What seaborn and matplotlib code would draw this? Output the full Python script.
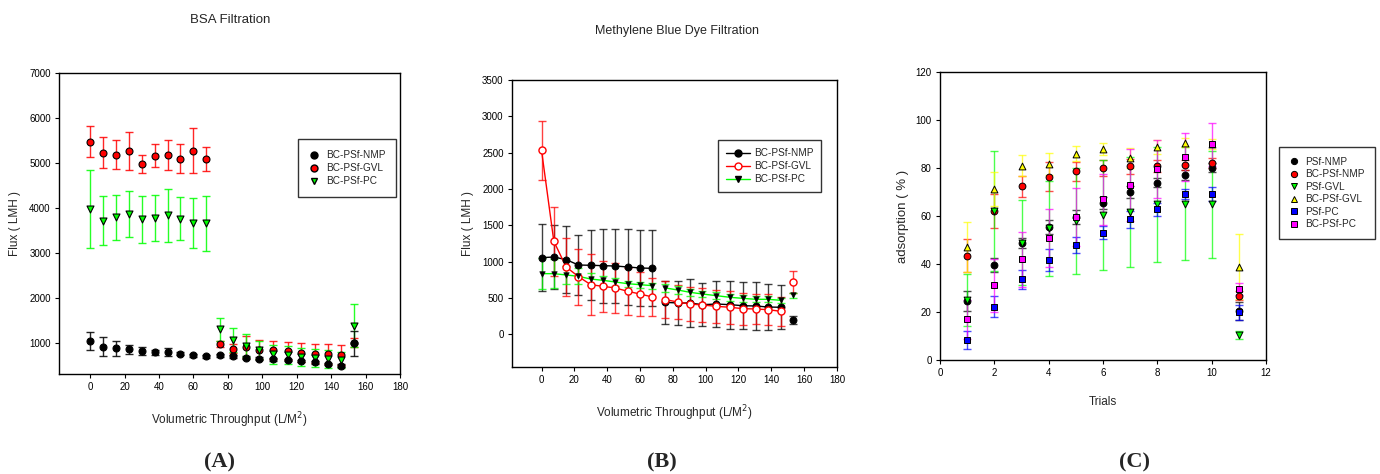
import numpy as np
import pandas as pd
import matplotlib
matplotlib.use("Agg")
import matplotlib.pyplot as plt
import seaborn as sns
from matplotlib.lines import Line2D

sns.set_style("ticks")
plt.rcParams['font.family'] = ['Liberation Sans', 'DejaVu Sans']

# ---------------- data ----------------
throughput = [0, 7.5, 15, 22.5, 30, 37.5, 45, 52.5, 60, 67.5, 75.5, 83, 90.5,
              98, 106.5, 115, 122.7, 130.4, 138, 145.7, 153.3]
segment = [0] * 10 + [1] * 10 + [2]

# BSA filtration flux (LMH)
bsa_nmp = [1044, 920, 880, 860, 822, 790, 790, 763, 726, 704, 726, 704, 674,
           652, 637, 622, 600, 570, 534, 497, 993]
bsa_nmp_err = [200, 210, 160, 100, 80, 50, 90, 40, 30, 30, 30, 30, 30,
               30, 30, 30, 30, 30, 30, 30, 280]
bsa_gvl = [5476, 5231, 5186, 5268, 4987, 5164, 5179, 5098, 5268, 5083, 978,
           874, 911, 852, 837, 815, 785, 763, 748, 741, 1000]
bsa_gvl_err = [350, 350, 320, 420, 200, 250, 330, 320, 500, 270, 60, 100,
               240, 215, 200, 200, 215, 215, 222, 222, 100]
bsa_pc = [3975, 3716, 3790, 3864, 3746, 3783, 3834, 3760, 3671, 3657, 1303,
          1067, 933, 845, 748, 726, 682, 674, 637, 615, 1385]
bsa_pc_err = [860, 540, 495, 510, 520, 510, 585, 475, 555, 610, 250, 270,
              255, 200, 215, 200, 205, 200, 200, 180, 485]

# Methylene blue dye filtration flux (LMH)
mb_nmp = [1055, 1064, 1028, 954, 950, 945, 940, 927, 913, 908, 440, 431, 431,
          408, 417, 408, 394, 390, 376, 372, 202]
mb_nmp_err = [460, 440, 460, 410, 480, 510, 515, 520, 520, 525, 300, 305,
              330, 300, 320, 330, 320, 325, 315, 300, 55]
mb_gvl = [2532, 1280, 927, 794, 683, 660, 638, 592, 555, 514, 477, 445, 417,
          404, 385, 372, 353, 349, 339, 317, 720]
mb_gvl_err = [410, 475, 400, 385, 420, 350, 340, 325, 305, 265, 250, 240,
              230, 230, 225, 230, 220, 210, 210, 200, 150]
mb_pc = [835, 835, 817, 798, 761, 743, 720, 697, 683, 670, 638, 610, 578, 555,
         532, 509, 495, 482, 482, 468, 537]
mb_pc_err = [210, 200, 130, 110, 80, 60, 50, 40, 40, 40, 50, 50, 50, 45, 45,
             45, 45, 40, 40, 35, 35]

# Adsorption (%) per trial
trials = [1, 2, 3, 4, 5, 6, 7, 8, 9, 10, 11]
psf_nmp = [24.7, 39.5, 48.8, 55.3, 59.6, 65.6, 70.0, 73.9, 77.1, 80.2, 20.5]
psf_nmp_err = [4.2, 3, 2, 3, 3, 2.5, 2.5, 2, 2, 2, 3.7]
bc_psf_nmp = [43.5, 62.0, 72.4, 76.3, 78.6, 80.0, 80.7, 81.0, 81.3, 82.1, 26.8]
bc_psf_nmp_err = [7, 7, 4.3, 6, 4, 3.5, 3, 2.5, 2, 2, 2]
psf_gvl = [25.0, 62.1, 48.8, 54.8, 58.0, 60.3, 61.7, 64.8, 65.2, 64.9, 10.4]
psf_gvl_err = [11, 25, 17.7, 19.7, 22, 23, 23, 24, 23.6, 22.3, 1.5]
bc_psf_gvl = [47.0, 71.2, 81.0, 81.8, 86.0, 88.0, 84.2, 88.8, 90.6, 89.9, 38.8]
bc_psf_gvl_err = [10.3, 7, 4.3, 4.6, 3, 2.5, 4, 3, 2, 2, 13.5]
psf_pc = [8.3, 22.2, 33.6, 41.6, 47.9, 53.1, 58.7, 62.8, 69.1, 69.1, 19.8]
psf_pc_err = [3.8, 4.4, 4, 4.6, 3.5, 2.7, 3.5, 2.7, 2.2, 3, 3]
bc_psf_pc = [16.9, 31.2, 42.0, 50.9, 59.6, 66.9, 73.1, 79.5, 84.7, 89.9, 29.4]
bc_psf_pc_err = [8, 11, 11.5, 12, 12, 10.8, 15, 12, 10, 9, 2.5]

membranes_ab = ["BC-PSf-NMP", "BC-PSf-GVL", "BC-PSf-PC"]
membranes_c = ["PSf-NMP", "BC-PSf-NMP", "PSf-GVL", "BC-PSf-GVL", "PSf-PC", "BC-PSf-PC"]

BLACK, RED, GREEN = "#000000", "#ff0000", "#00ff00"
YELLOW, BLUE, MAGENTA = "#ffff00", "#0000ff", "#ff00ff"

TICK_FS, LABEL_FS, LEG_FS = 7, 8.5, 7.2

fig = plt.figure(figsize=(13.8, 4.74), dpi=100)
axA = fig.add_axes([0.0428, 0.211, 0.2471, 0.635])
axB = fig.add_axes([0.371, 0.2257, 0.2355, 0.6055])
axC = fig.add_axes([0.6812, 0.2405, 0.2362, 0.6076])


def style_axes(ax):
    for sp in ax.spines.values():
        sp.set_visible(True)
        sp.set_linewidth(1.0)
        sp.set_color("black")
    ax.tick_params(direction="out", length=3, width=0.8, labelsize=TICK_FS,
                   colors="black", pad=3)
    ax.grid(False)


def errbars(ax, x, y, e, color, alpha=0.85):
    ax.errorbar(x, y, yerr=e, fmt="none", ecolor=color, elinewidth=1.0,
                capsize=3.2, capthick=1.0, alpha=alpha, zorder=2)


def boxed_legend(ax, handles, labels, anchor, **kw):
    leg = ax.legend(handles, labels, loc="upper left", bbox_to_anchor=anchor,
                    fontsize=LEG_FS, frameon=True, fancybox=False,
                    borderaxespad=0, **kw)
    leg.get_frame().set_edgecolor("black")
    leg.get_frame().set_linewidth(1.0)
    return leg


# ---------------- (A) BSA filtration ----------------
dfA = pd.DataFrame({"x": throughput, "nmp": bsa_nmp, "gvl": bsa_gvl, "pc": bsa_pc})
for col, err, c in [("gvl", bsa_gvl_err, RED), ("pc", bsa_pc_err, GREEN),
                    ("nmp", bsa_nmp_err, BLACK)]:
    errbars(axA, dfA["x"], dfA[col], err, c)
sns.scatterplot(data=dfA, x="x", y="gvl", ax=axA, color=RED, marker="o", s=25,
                edgecolor="black", linewidth=0.8, zorder=3, legend=False)
sns.scatterplot(data=dfA, x="x", y="pc", ax=axA, color=GREEN, marker="v", s=25,
                edgecolor="black", linewidth=0.8, zorder=3, legend=False)
sns.scatterplot(data=dfA, x="x", y="nmp", ax=axA, color=BLACK, marker="o", s=25,
                edgecolor="black", linewidth=0.8, zorder=3, legend=False)
axA.set_xlim(-18, 180)
axA.set_ylim(310, 7000)
axA.set_xticks(range(0, 181, 20))
axA.set_yticks(range(1000, 7001, 1000))
axA.set_xlabel("Volumetric Throughput (L/M$^2$)", fontsize=LABEL_FS, labelpad=13)
axA.set_ylabel("Flux ( LMH )", fontsize=LABEL_FS, labelpad=6)
style_axes(axA)
hA = [Line2D([], [], ls="none", marker="o", ms=5, mfc=BLACK, mec="black"),
      Line2D([], [], ls="none", marker="o", ms=5, mfc=RED, mec="black"),
      Line2D([], [], ls="none", marker="v", ms=5, mfc=GREEN, mec="black")]
boxed_legend(axA, hA, membranes_ab, (0.70, 0.78), borderpad=1.1,
             handlelength=1.0, handletextpad=0.7, labelspacing=0.3)

# ---------------- (B) Methylene blue dye filtration ----------------
dfB = pd.DataFrame({"x": throughput, "seg": segment, "nmp": mb_nmp,
                    "gvl": mb_gvl, "pc": mb_pc})
for col, err, c in [("nmp", mb_nmp_err, BLACK), ("gvl", mb_gvl_err, RED),
                    ("pc", mb_pc_err, GREEN)]:
    errbars(axB, dfB["x"], dfB[col], err, c, alpha=0.75)
for col, c in [("nmp", BLACK), ("gvl", RED), ("pc", GREEN)]:
    sns.lineplot(data=dfB, x="x", y=col, units="seg", estimator=None, ax=axB,
                 color=c, linewidth=1.0, zorder=3, legend=False)
sns.scatterplot(data=dfB, x="x", y="nmp", ax=axB, color=BLACK, marker="o", s=26,
                edgecolor="black", linewidth=0.6, zorder=4, legend=False)
sns.scatterplot(data=dfB, x="x", y="gvl", ax=axB, color="white", marker="o", s=26,
                edgecolor=RED, linewidth=1.0, zorder=4, legend=False)
sns.scatterplot(data=dfB, x="x", y="pc", ax=axB, color=BLACK, marker="v", s=16,
                edgecolor="black", linewidth=0.4, zorder=4, legend=False)
axB.set_xlim(-18, 180)
axB.set_ylim(-450, 3500)
axB.set_xticks(range(0, 181, 20))
axB.set_yticks(range(0, 3501, 500))
axB.set_xlabel("Volumetric Throughput (L/M$^2$)", fontsize=LABEL_FS, labelpad=13)
axB.set_ylabel("Flux ( LMH )", fontsize=LABEL_FS, labelpad=6)
style_axes(axB)
hB = [Line2D([], [], color=BLACK, lw=1.0, marker="o", ms=5, mfc=BLACK, mec="black"),
      Line2D([], [], color=RED, lw=1.0, marker="o", ms=5, mfc="white", mec=RED),
      Line2D([], [], color=GREEN, lw=1.0, marker="v", ms=4, mfc=BLACK, mec="black")]
boxed_legend(axB, hB, membranes_ab, (0.633, 0.79), borderpad=0.8,
             handlelength=2.4, handletextpad=0.4, labelspacing=0.3)

# ---------------- (C) Adsorption ----------------
dfC = pd.DataFrame({"trial": trials, "PSf-NMP": psf_nmp, "BC-PSf-NMP": bc_psf_nmp,
                    "PSf-GVL": psf_gvl, "BC-PSf-GVL": bc_psf_gvl,
                    "PSf-PC": psf_pc, "BC-PSf-PC": bc_psf_pc})
c_errs = [psf_nmp_err, bc_psf_nmp_err, psf_gvl_err, bc_psf_gvl_err,
          psf_pc_err, bc_psf_pc_err]
c_cols = [BLACK, RED, GREEN, YELLOW, BLUE, MAGENTA]
c_marks = ["o", "o", "v", "^", "s", "s"]
for name, err, c in zip(membranes_c, c_errs, c_cols):
    errbars(axC, dfC["trial"], dfC[name], err, c, alpha=0.7)
for name, c, m in zip(membranes_c, c_cols, c_marks):
    sns.scatterplot(data=dfC, x="trial", y=name, ax=axC, color=c, marker=m,
                    s=24, edgecolor="black", linewidth=0.7, zorder=3, legend=False)
axC.set_xlim(0, 12)
axC.set_ylim(0, 120)
axC.set_xticks(range(0, 13, 2))
axC.set_yticks(range(0, 121, 20))
axC.set_xlabel("Trials", fontsize=LABEL_FS, labelpad=13)
axC.set_ylabel("adsorption ( % )", fontsize=9.5, labelpad=5)
style_axes(axC)
hC = [Line2D([], [], ls="none", marker=m, ms=4.5, mfc=c, mec="black", mew=0.7)
      for c, m in zip(c_cols, c_marks)]
boxed_legend(axC, hC, membranes_c, (1.04, 0.74), borderpad=1.0,
             handlelength=1.0, handletextpad=0.6, labelspacing=0.25)

# ---------------- titles and panel letters ----------------
fig.text(230 / 1380, 1 - 20 / 474, "BSA Filtration", ha="center", va="center",
         fontsize=9.5)
fig.text(677 / 1380, 1 - 31 / 474, "Methylene Blue Dye Filtration", ha="center",
         va="center", fontsize=9)
for lbl, xp in [("(A)", 220), ("(B)", 662), ("(C)", 1135)]:
    fig.text(xp / 1380, 1 - 462 / 474, lbl, ha="center", va="center",
             fontsize=16, fontweight="bold",
             family=["Liberation Serif", "DejaVu Serif"])

fig.savefig("out.png", dpi=100)
